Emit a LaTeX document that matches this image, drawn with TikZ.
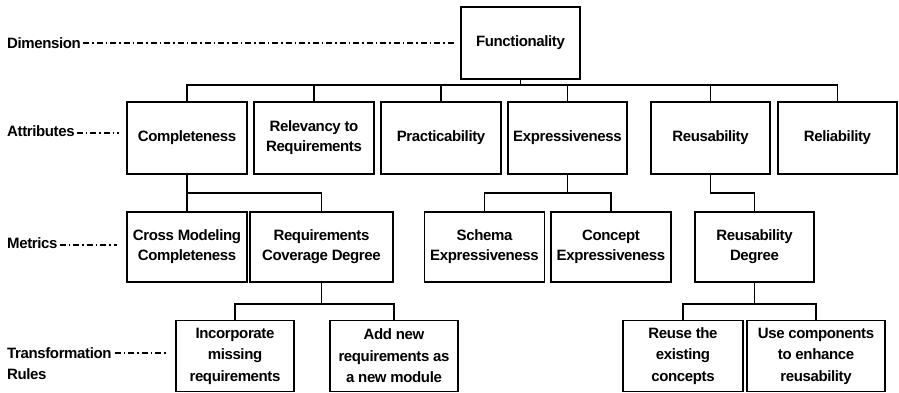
\documentclass[tikz,border=0pt]{standalone}
\usepackage{fontspec}
\setmainfont{Liberation Sans}[LetterSpace=-2.5]
\begin{document}
\begin{tikzpicture}[x=1pt,y=-1pt,
  box/.style={draw, line width=1.7pt, inner sep=0pt, align=center,
    font=\bfseries\fontsize{15}{20}\selectfont},
  rule/.style={box, minimum height=71pt, font=\bfseries\fontsize{15}{21.5}\selectfont},
  wire/.style={line width=1.7pt},
  level/.style={font=\bfseries\fontsize{15}{20}\selectfont, anchor=west, inner sep=0pt},
  guide/.style={line width=1.5pt, dash pattern=on 6pt off 3pt on 1.5pt off 3pt}]
\useasboundingbox (0,0) rectangle (899,392);

% dimension
\node[box, minimum width=119pt, minimum height=72pt] (F) at (520.5,43) {Functionality};

% attributes
\begin{scope}[every node/.append style={box, minimum height=72pt}]
\node[minimum width=120pt] (A1) at (187,138) {Completeness};
\node[minimum width=120pt] (A2) at (314,138) {Relevancy to\\Requirements};
\node[minimum width=120pt] (A3) at (441,138) {Practicability};
\node[minimum width=119pt] (A4) at (567.5,138) {Expressiveness};
\node[minimum width=119pt] (A5) at (710.5,138) {Reusability};
\node[minimum width=119pt] (A6) at (837.5,138) {Reliability};
\end{scope}

% metrics
\begin{scope}[every node/.append style={box, minimum height=70pt}]
\node[minimum width=120pt] (M1) at (187,247) {Cross Modeling\\Completeness};
\node[minimum width=143pt] (M2) at (321.5,247) {Requirements\\Coverage Degree};
\node[minimum width=120pt] (M3) at (484.5,247) {Schema\\Expressiveness};
\node[minimum width=120pt] (M4) at (611,247) {Concept\\Expressiveness};
\node[minimum width=119pt] (M5) at (754.5,247) {Reusability\\Degree};
\end{scope}

% transformation rules
\node[rule, minimum width=118pt] (T1) at (235,356) {Incorporate\\missing\\requirements};
\node[rule, minimum width=128pt] (T2) at (394,356) {Add new\\requirements as\\a new module};
\node[rule, minimum width=120pt] (T3) at (683,356) {Reuse the\\existing\\concepts};
\node[rule, minimum width=138pt] (T4) at (816,356) {Use components\\to enhance\\reusability};

% tree connectors
\foreach \c in {A1,A2,A3,A4,A5,A6}
  \draw[wire] (F.south) |- (\c.north |- 0,85) -- (\c.north);
\foreach \c in {M1,M2}
  \draw[wire] (A1.south) |- (\c.north |- 0,193) -- (\c.north);
\foreach \c in {M3,M4}
  \draw[wire] (A4.south) |- (\c.north |- 0,193) -- (\c.north);
\draw[wire] (A5.south) |- (M5.north |- 0,193) -- (M5.north);
\foreach \c in {T1,T2}
  \draw[wire] (M2.south) |- (\c.north |- 0,304) -- (\c.north);
\foreach \c in {T3,T4}
  \draw[wire] (M5.south) |- (\c.north |- 0,304) -- (\c.north);

% level labels
\node[level] (dim) at (7,43) {Dimension};
\node[level] (att) at (7,131) {Attributes};
\node[level] (met) at (7,243) {Metrics};
\node[level] (trf) at (7,353) {Transformation};
\node[level, anchor=base west] (rul) at ([yshift=-21pt]trf.base west) {Rules};

\draw[guide] ([xshift=2pt]dim.east) -- ([xshift=-6pt]dim.east -| F.west);
\draw[guide] ([xshift=2pt,yshift=-2pt]att.east) -- ([xshift=-7pt,yshift=-2pt]att.east -| A1.west);
\draw[guide] ([xshift=2pt,yshift=-2pt]met.east) -- ([xshift=-9pt,yshift=-2pt]met.east -| M1.west);
\draw[guide] ([xshift=3pt]trf.east) -- ([xshift=-9pt]trf.east -| T1.west);
\end{tikzpicture}
\end{document}
